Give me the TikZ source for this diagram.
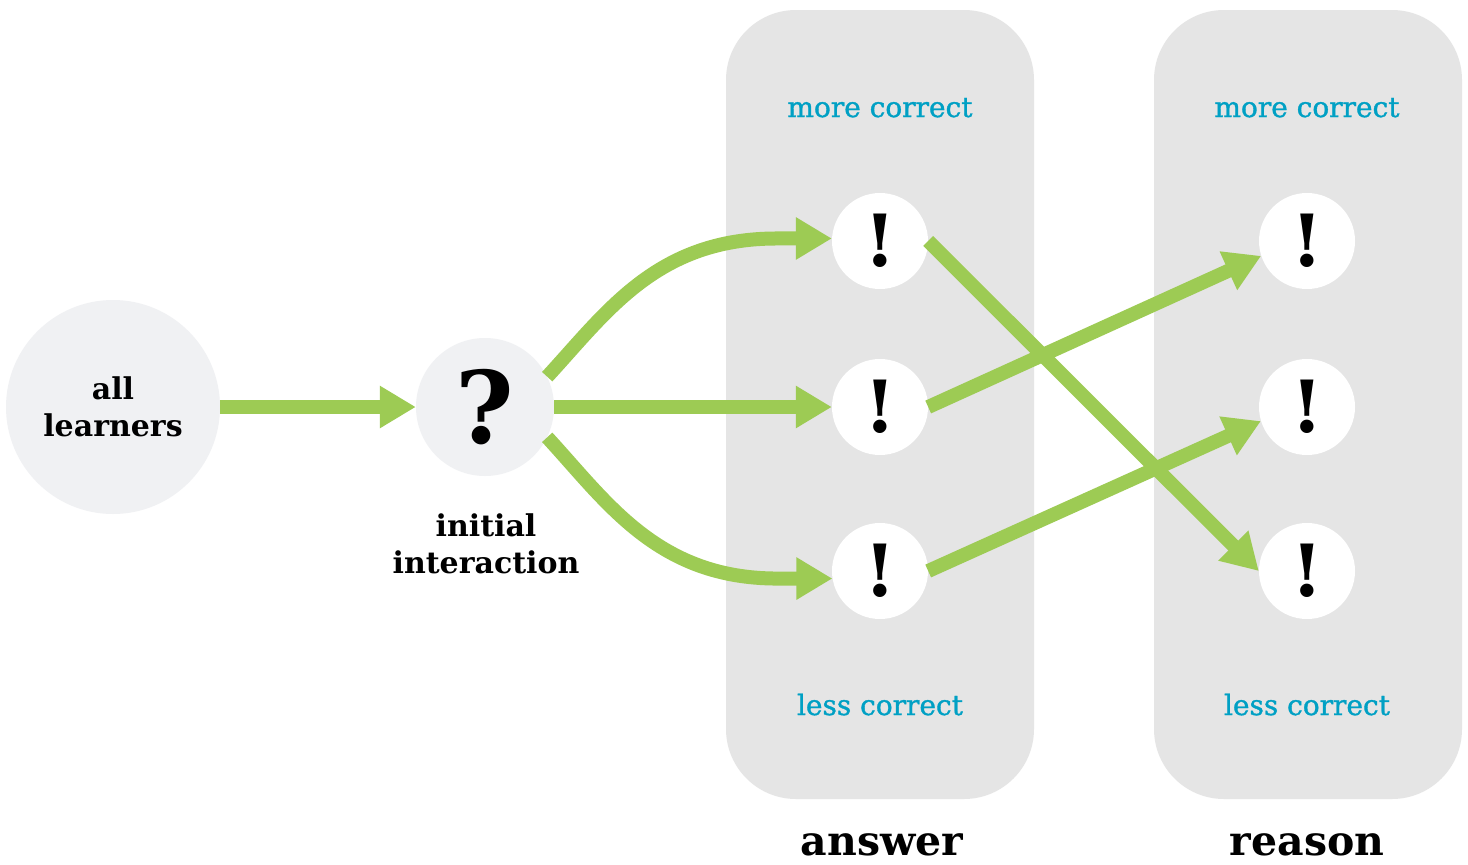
\documentclass[tikz,border=0pt]{standalone}
\usepackage{fontspec}
\setmainfont{DejaVu Serif}
\newfontfamily\rankfont{DejaVu Serif}[FakeBold=1.2]
\usetikzlibrary{arrows.meta,calc}
\definecolor{flowgreen}{RGB}{157,203,84}
\definecolor{panelgray}{RGB}{229,229,229}
\definecolor{hubgray}{RGB}{240,241,243}
\definecolor{labelblue}{RGB}{0,160,196}
\tikzset{
  panel/.style={fill=panelgray, rounded corners=70pt, minimum width=308pt,
                minimum height=789pt, inner sep=0pt},
  hub/.style={circle, fill=hubgray, inner sep=0pt},
  outcome/.style={circle, fill=white, minimum size=96pt, inner sep=0pt,
                  font=\bfseries\fontsize{72}{72}\selectfont},
  flow/.style={draw=flowgreen, line width=14pt,
               -{Triangle[length=36pt,width=40pt]}},
  rank/.style={text=labelblue, anchor=base, font=\rankfont\fontsize{28}{28}\selectfont},
  caption/.style={align=center, font=\bfseries\fontsize{30}{37}\selectfont},
  axis/.style={anchor=base, font=\bfseries\fontsize{41}{41}\selectfont}
}
\begin{document}
\begin{tikzpicture}[x=1pt,y=-1pt]
\useasboundingbox[fill=white] (0,0) rectangle (1468,865);

% the two rating columns
\node[panel] (ansPanel) at (880,404.5) {};
\node[panel] (resPanel) at (1308,404.5) {};
\node[rank] (ansMore) at (880,117) {more correct};
\node[rank] (ansLess) at (880,715) {less correct};
\node[rank] (resMore) at (1307,117) {more correct};
\node[rank] (resLess) at (1307,715) {less correct};
\node[axis] (ansTitle) at (882,855) {answer};
\node[axis] (resTitle) at (1307,855) {reason};

% starting population and first question
\node[hub, minimum size=214pt, caption] (all) at (113,407) {all\\learners};
\node[hub, minimum size=138pt, font=\bfseries\fontsize{100}{100}\selectfont] (q) at (485,407) {?};
\node[caption] (qcap) at (486,544) {initial\\interaction};

% outcome markers
\node[outcome] (a1) at (880,241) {!};
\node[outcome] (a2) at (880,407) {!};
\node[outcome] (a3) at (880,571) {!};
\node[outcome] (b1) at (1307,241) {!};
\node[outcome] (b2) at (1307,407) {!};
\node[outcome] (b3) at (1307,571) {!};

% flows
\draw[flow] (all) -- (q);
\draw[flow] (q.26) .. controls +(60,-65) and +(-120,0) .. ($(a1.177)+(-55,0)$) -- (a1.177);
\draw[flow] (q) -- (a2);
\draw[flow] (q.-26) .. controls +(60,65) and +(-120,0) .. ($(a3.189)+(-55,0)$) -- (a3.189);
\draw[flow] (a1.east) -- (b3.west);
\draw[flow] (a2.east) -- (b1.198);
\draw[flow] (a3.east) -- (b2.197);
\end{tikzpicture}
\end{document}
